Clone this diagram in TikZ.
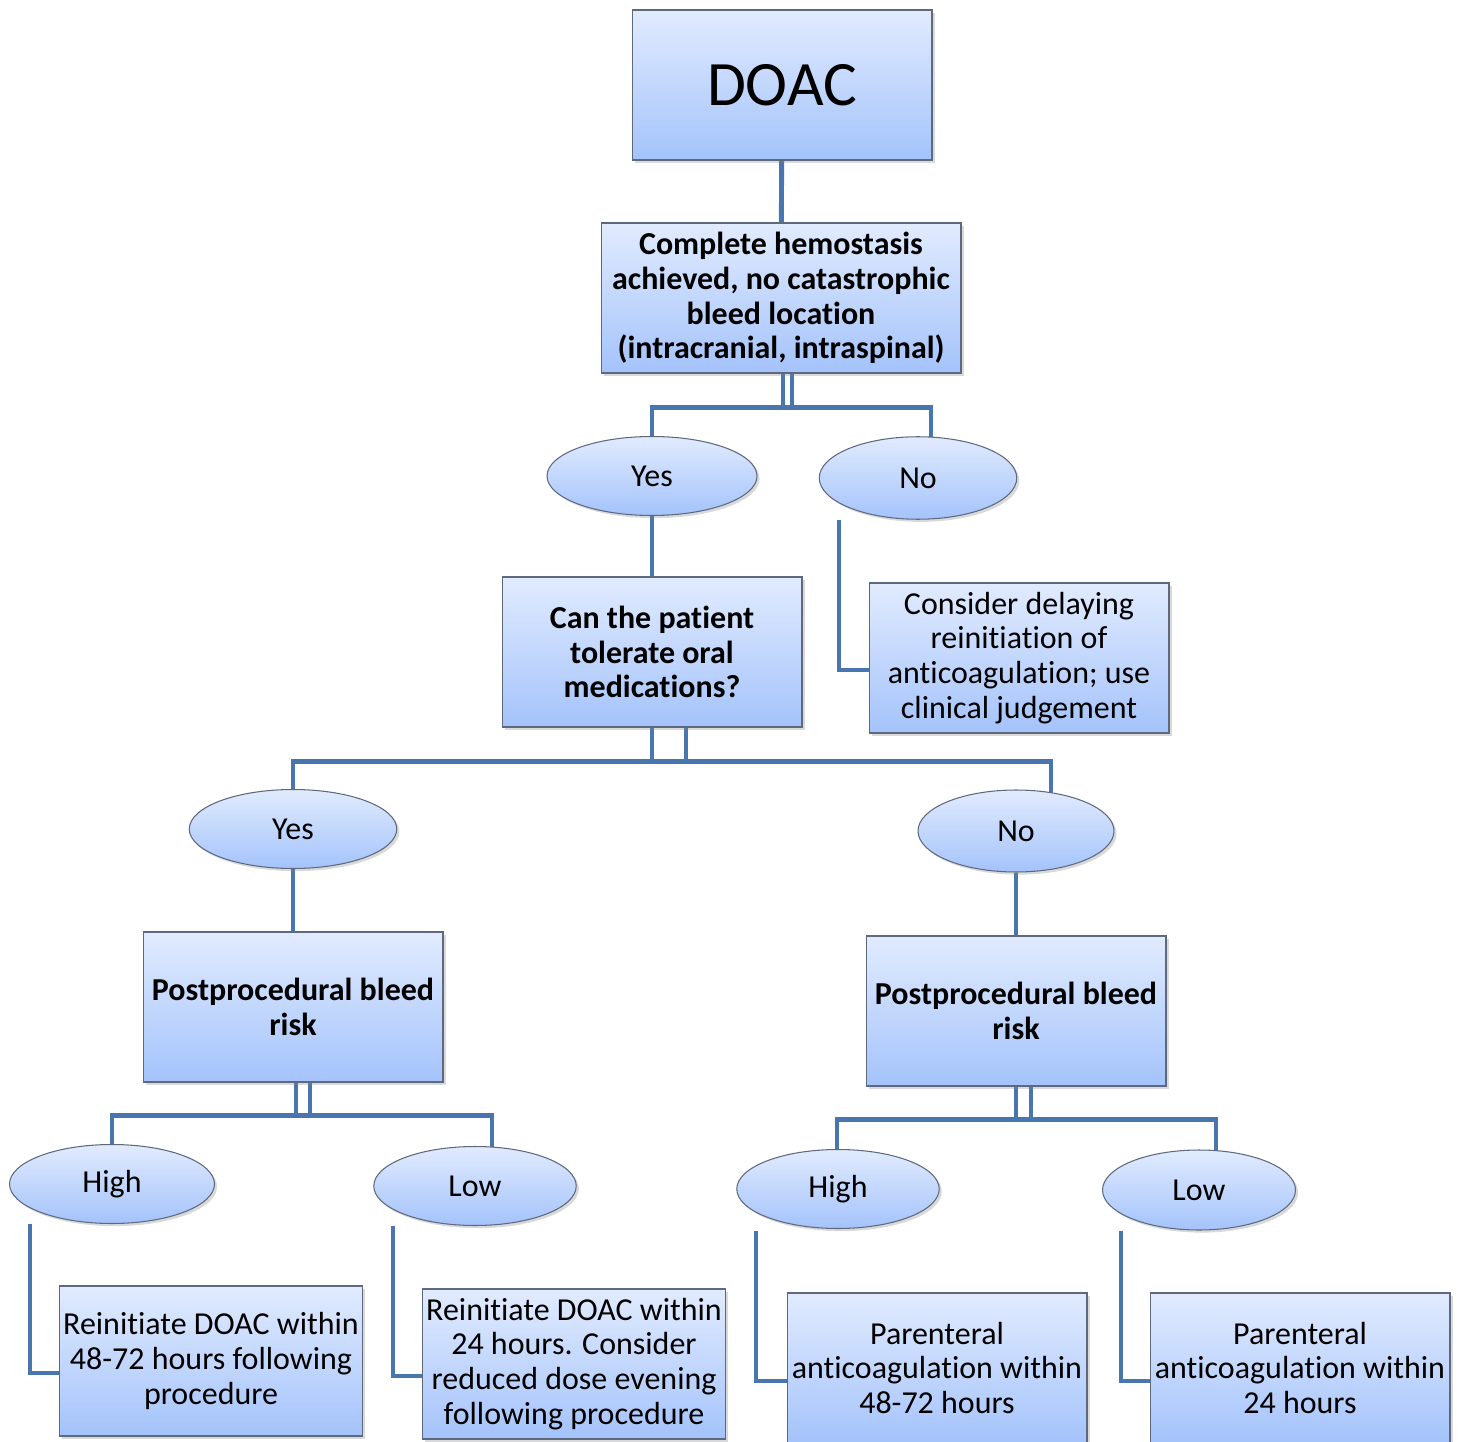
\documentclass[tikz,border=0pt]{standalone}
\usepackage{fontspec}
\setmainfont{Carlito}[Ligatures=NoCommon]
\usetikzlibrary{shapes.geometric,shadows,calc,backgrounds}
\definecolor{doactop}{RGB}{225,235,254}
\definecolor{doacbot}{RGB}{164,195,251}
\definecolor{doacedge}{RGB}{95,105,125}
\definecolor{doacline}{RGB}{74,118,175}
\tikzset{
  doac box/.style={rectangle, draw=doacedge, line width=0.6pt, top color=doactop, bottom color=doacbot, align=center, minimum width=6cm, minimum height=3cm, inner sep=2pt, font=\fontsize{18.2}{19.8}\selectfont, drop shadow={opacity=0.3, shadow xshift=1.5pt, shadow yshift=-1.5pt}},
  doac choice/.style={ellipse, draw=doacedge, line width=0.6pt, top color=doactop, bottom color=doacbot, minimum width=4.1cm, minimum height=1.58cm, inner sep=0pt, font=\fontsize{18.2}{19.8}\selectfont, drop shadow={opacity=0.3, shadow xshift=1.5pt, shadow yshift=-1.5pt}},
  doac link/.style={draw=doacline, line width=2.8pt}
}
\begin{document}
\begin{tikzpicture}[x=0.02cm, y=-0.02cm]
    \useasboundingbox (0,0) rectangle (1460,1442);
    % Top of the tree
    \node [doac box, font=\fontsize{36}{40}\selectfont] (doac) at (782,85) {DOAC};
    \node [doac box, font=\bfseries\fontsize{18.2}{19.8}\selectfont, minimum width=7.2cm] (cplt) at (781,298) {Complete hemostasis\\achieved, no catastrophic\\bleed location\\(intracranial, intraspinal)};

    % First choice
    \node [doac choice, minimum width=4.2cm] (yes1) at (652,476) {Yes};
    \node [doac choice, minimum width=3.95cm, minimum height=1.65cm] (no1) at (918,478) {No};
    \node [doac box, font=\bfseries\fontsize{18.2}{19.8}\selectfont] (oral) at (652,652) {Can the patient\\tolerate oral\\medications?};
    \node [doac box] (cons) at (1019,658) {Consider delaying\\reinitiation of\\anticoagulation; use\\clinical judgement};

    % Oral medications
    \node [doac choice, minimum width=4.15cm] (yes2) at (293,829) {Yes};
    \node [doac choice, minimum width=3.92cm, minimum height=1.64cm] (no2) at (1016,831) {No};
    \node [doac box, font=\bfseries\fontsize{18.2}{19.8}\selectfont] (risk1) at (293,1007) {Postprocedural bleed\\risk};
    \node [doac box, font=\bfseries\fontsize{18.2}{19.8}\selectfont] (risk2) at (1016,1011) {Postprocedural bleed\\risk};

    % Bleed risk
    \node [doac choice] (high1) at (112,1184) {High};
    \node [doac choice, minimum width=4.05cm] (low1) at (475,1186) {Low};
    \node [doac choice, minimum width=4.05cm] (high2) at (838,1189) {High};
    \node [doac choice, minimum width=3.86cm, minimum height=1.6cm] (low2) at (1199,1190) {Low};

    % Outcomes
    \node [doac box] (out1) at (211,1361) {Reinitiate DOAC within\\48-72 hours following\\procedure};
    \node [doac box] (out2) at (574,1364) {Reinitiate DOAC within\\24 hours. Consider\\reduced dose evening\\following procedure};
    \node [doac box] (out3) at (937,1368) {Parenteral\\anticoagulation within\\48-72 hours};
    \node [doac box] (out4) at (1300,1368) {Parenteral\\anticoagulation within\\24 hours};

    % Connectors
    \begin{pgfonlayer}{background}
    \draw [doac link] (doac) -- (cplt);
    \draw [doac link] ($(cplt.south)+(11,0)$) -- ++(0,34) -| (yes1);
    \draw [doac link] ($(cplt.south)+(2,0)$) -- ++(0,34) -| ($(no1)+(13,0)$);
    \draw [doac link] (yes1) -- (oral);
    \draw [doac link] ($(no1.south)+(-79,0)$) |- ($(cons.west)+(0,12)$);

    \draw [doac link] ($(oral.south)+(34,0)$) -- ++(0,34) -| (yes2);
    \draw [doac link] ($(oral.south)+(0,0)$) -- ++(0,34) -| ($(no2)+(35,0)$);
    \draw [doac link] (yes2) -- (risk1);
    \draw [doac link] (no2) -- (risk2);

    \draw [doac link] ($(risk1.south)+(17,0)$) -- ++(0,33) -| (high1);
    \draw [doac link] ($(risk1.south)+(3,0)$) -- ++(0,33) -| ($(low1)+(17,0)$);
    \draw [doac link] ($(risk2.south)+(15,0)$) -- ++(0,33) -| ($(high2)+(-1,0)$);
    \draw [doac link] ($(risk2.south)+(0,0)$) -- ++(0,33) -| ($(low2)+(17,0)$);

    \draw [doac link] ($(high1.south)+(-82,0)$) |- ($(out1.west)+(0,12)$);
    \draw [doac link] ($(low1.south)+(-82,0)$) |- ($(out2.west)+(0,12)$);
    \draw [doac link] ($(high2.south)+(-82,2)$) |- ($(out3.west)+(0,13)$);
    \draw [doac link] ($(low2.south)+(-78,0)$) |- ($(out4.west)+(0,13)$);
    \end{pgfonlayer}
\end{tikzpicture}
\end{document}
